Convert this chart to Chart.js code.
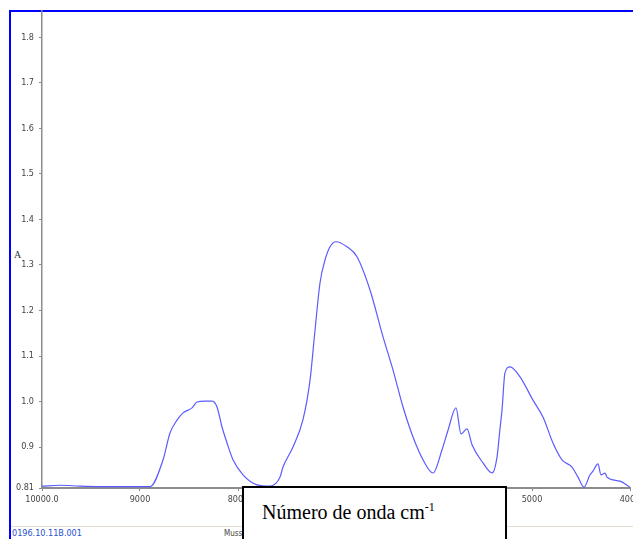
<!DOCTYPE html>
<html>
<head>
<meta charset="utf-8">
<script src="https://cdn.jsdelivr.net/npm/chart.js@4/dist/chart.umd.min.js"></script>
<style>
  body { margin: 0; background: #fff; }
  #wrap { position: relative; width: 633px; height: 539px; overflow: hidden; }
  #frame {
    position: absolute; left: 9px; top: 10px; width: 640px; height: 540px;
    border-left: 2px solid #0000ff; border-top: 2px solid #0000ff;
  }
  #foot { position: absolute; left: 11px; top: 526px; width: 622px; height: 1px; background: #e2ddd0; }
  #file { position: absolute; left: 12px; top: 528px; font: 9px "Liberation Sans Narrow", "DejaVu Sans Condensed", sans-serif; color: #2a4fd0; }
  #muss { position: absolute; left: 224px; top: 529px; font: 8px "Liberation Sans Narrow", "DejaVu Sans Condensed", sans-serif; color: #444; }
  #ylab { position: absolute; left: 14px; top: 249px; font: 10px "Liberation Serif", serif; color: #333; }
  #box {
    position: absolute; left: 242px; top: 486px; width: 261px; height: 70px;
    border: 2px solid #000; background: #fff;
  }
  #box span { position: absolute; left: 18px; top: 12px; font: 20px "Liberation Serif", "Times New Roman", serif; color: #000; white-space: nowrap; }
  #box sup { font-size: 12px; }
  canvas { position: absolute; left: 0; top: 0; }
</style>
</head>
<body>
<div id="wrap">
  <div id="frame"></div>
  <div id="foot"></div>
  <div id="file">0196.10.11B.001</div>
  <div id="muss">Muss</div>
  <div id="ylab">A</div>
  <canvas id="myEspectro" width="633" height="539"></canvas>
  <div id="box"><span>Número de onda cm<sup>-1</sup></span></div>
</div>
<script>
const numeroOnda = [
  10000, 9816, 9612, 9408, 9204, 8898, 8765, 8694, 8622, 8561, 8469, 8418,
  8337, 8265, 8214, 8163, 8112, 8051, 7949, 7806, 7673, 7571, 7541, 7439,
  7337, 7265, 7214, 7163, 7112, 7061, 7000, 6888, 6786, 6653, 6520, 6418,
  6316, 6214, 6112, 6010, 5918, 5857, 5776, 5724, 5663, 5612, 5500, 5408,
  5357, 5327, 5306, 5276, 5224, 5122, 4990, 4888, 4786, 4694, 4592, 4531,
  4469, 4408, 4378, 4327, 4296, 4255, 4235, 4102, 4000,
];
const absorbancia = [
  0.814, 0.816, 0.814, 0.813, 0.813, 0.813, 0.872, 0.931, 0.959, 0.975, 0.986, 0.999,
  1.001, 1.001, 0.988, 0.944, 0.909, 0.872, 0.839, 0.817, 0.814, 0.834, 0.856, 0.9,
  0.96, 1.047, 1.157, 1.261, 1.311, 1.34, 1.351, 1.34, 1.318, 1.245, 1.142, 1.069,
  0.988, 0.922, 0.872, 0.843, 0.894, 0.937, 0.986, 0.929, 0.94, 0.905, 0.865, 0.843,
  0.878, 0.94, 0.981, 1.063, 1.076, 1.054, 1.003, 0.966, 0.909, 0.872, 0.856, 0.834,
  0.812, 0.839, 0.847, 0.863, 0.839, 0.843, 0.834, 0.825, 0.812,
];

const xTicks = [10000, 9000, 8000, 7000, 6000, 5000, 4000];
const xTickLabels = ["10000.0", "9000", "8000", "7000", "6000", "5000", "4000"];
const yTicks = [0.81, 0.9, 1.0, 1.1, 1.2, 1.3, 1.4, 1.5, 1.6, 1.7, 1.8];
const yTickLabels = ["0.81", "0.9", "1.0", "1.1", "1.2", "1.3", "1.4", "1.5", "1.6", "1.7", "1.8"];

const fuenteEje = { family: "'Liberation Sans Narrow', 'DejaVu Sans Condensed', sans-serif", size: 9 };

const ctx = document.getElementById("myEspectro").getContext("2d");

const myChart = new Chart(ctx, {
  type: "line",
  data: {
    datasets: [
      {
        data: numeroOnda.map((x, i) => ({ x: x, y: absorbancia[i] })),
        borderColor: "#5b5bff",
        borderWidth: 1.2,
        pointRadius: 0,
        cubicInterpolationMode: "monotone",
        fill: false,
      },
    ],
  },
  options: {
    responsive: false,
    animation: false,
    layout: { padding: { left: 0, right: 3, top: 11, bottom: 31 } },
    plugins: { legend: { display: false }, tooltip: { enabled: false } },
    scales: {
      x: {
        type: "linear",
        reverse: true,
        min: 4000,
        max: 10000,
        afterBuildTicks: (scale) => {
          scale.ticks = xTicks.map((v) => ({ value: v }));
        },
        afterFit: (scale) => {
          scale.height = 20;
          scale.paddingLeft = 0;
          scale.paddingRight = 0;
        },
        border: { color: "#8c8c8c", width: 2 },
        grid: { drawOnChartArea: false, tickLength: 3, color: "#8c8c8c" },
        ticks: {
          autoSkip: false,
          maxRotation: 0,
          padding: 3,
          color: "#444",
          font: fuenteEje,
          callback: (v) => xTickLabels[xTicks.indexOf(v)],
        },
      },
      y: {
        min: 0.81,
        max: 1.858,
        afterBuildTicks: (scale) => {
          scale.ticks = yTicks.map((v) => ({ value: v }));
        },
        afterFit: (scale) => {
          scale.width = 42;
          scale.paddingTop = 0;
          scale.paddingBottom = 0;
        },
        border: { color: "#8c8c8c", width: 1.5 },
        grid: { drawOnChartArea: false, tickLength: 3, color: "#8c8c8c" },
        ticks: {
          autoSkip: false,
          padding: 5,
          color: "#444",
          font: fuenteEje,
          callback: (v) => yTickLabels[yTicks.indexOf(v)],
        },
      },
    },
  },
});
</script>
</body>
</html>
